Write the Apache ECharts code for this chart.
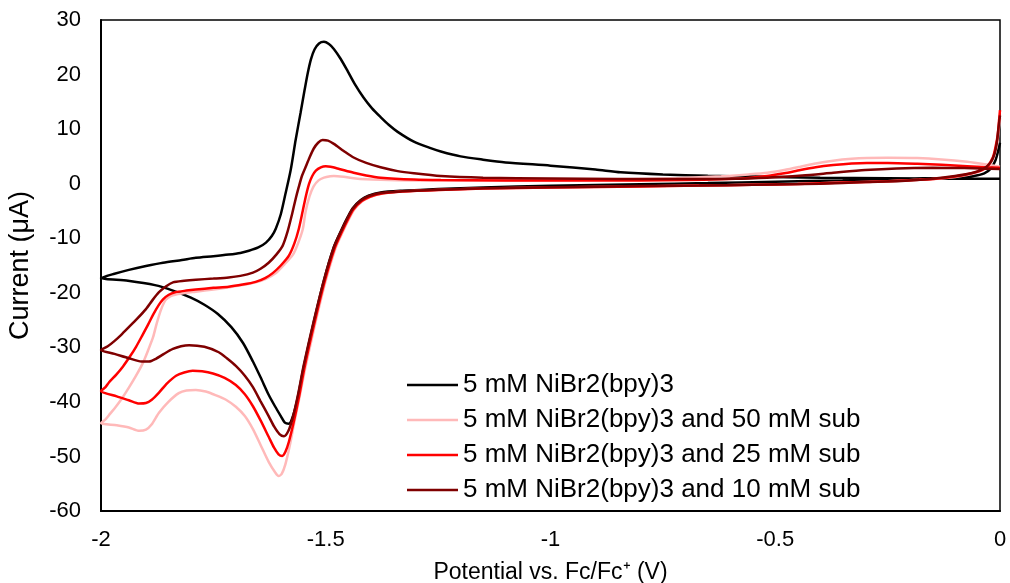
<!DOCTYPE html>
<html><head><meta charset="utf-8">
<script src="https://cdn.jsdelivr.net/npm/echarts@6/dist/echarts.min.js"></script>
<style>html,body{margin:0;padding:0;background:#fff}#c{width:1010px;height:583px}</style>
</head><body><div id="c"></div>
<script>
// Series names and colours
const seriesNames = [
  '5 mM NiBr2(bpy)3',
  '5 mM NiBr2(bpy)3 and 50 mM sub',
  '5 mM NiBr2(bpy)3 and 25 mM sub',
  '5 mM NiBr2(bpy)3 and 10 mM sub'
];
const seriesColors = ['#000000', '#FFB9B9', '#FF0000', '#7F0000'];
const xTicks = [-2, -1.5, -1, -0.5, 0];
const yTicks = [-60, -50, -40, -30, -20, -10, 0, 10, 20, 30];

// [potential (V), current (uA)] in scan order
const cvBlack = [
  [0, 7.5], [-0.004, 6.0], [-0.01, 4.3], [-0.02, 2.8], [-0.035, 1.9], [-0.06, 1.4], [-0.1, 1.1], [-0.2, 0.9],
  [-0.35, 0.6], [-0.5, 0.35], [-0.65, 0.1], [-0.8, -0.1], [-1.0, -0.4], [-1.15, -0.7], [-1.25, -1.0], [-1.33, -1.3],
  [-1.378, -1.6], [-1.405, -2.2], [-1.422, -3.0], [-1.44, -4.5], [-1.451, -6.1], [-1.467, -8.8], [-1.482, -11.6],
  [-1.504, -17.7], [-1.527, -25.5], [-1.549, -33.6], [-1.562, -39.1], [-1.573, -42.6], [-1.582, -44.0], [-1.591, -43.8],
  [-1.6, -42.6], [-1.613, -40.8], [-1.627, -38.7], [-1.645, -35.5], [-1.662, -32.6], [-1.684, -29.2], [-1.71, -26.3],
  [-1.74, -23.9], [-1.77, -22.2], [-1.8, -20.9], [-1.84, -19.6], [-1.88, -18.6], [-1.94, -17.8], [-2.0, -17.3],
  [-1.97, -16.5], [-1.938, -15.8], [-1.9, -15.1], [-1.862, -14.5], [-1.82, -14.0], [-1.789, -13.6], [-1.75, -13.3],
  [-1.716, -13.0], [-1.69, -12.7], [-1.671, -12.3], [-1.65, -11.7], [-1.633, -10.8], [-1.62, -9.6], [-1.611, -8.2],
  [-1.6, -5.6], [-1.59, -2.0], [-1.578, 2.5], [-1.567, 8.0], [-1.556, 13.0], [-1.547, 17.2], [-1.54, 20.3],
  [-1.533, 22.8], [-1.525, 24.6], [-1.515, 25.7], [-1.504, 26.0], [-1.493, 25.6], [-1.482, 24.7], [-1.467, 22.9],
  [-1.451, 20.6], [-1.435, 18.2], [-1.416, 15.8], [-1.397, 13.8], [-1.378, 12.2], [-1.36, 10.8], [-1.34, 9.5],
  [-1.304, 7.7], [-1.27, 6.6], [-1.244, 5.9], [-1.2, 5.0], [-1.15, 4.4], [-1.1, 3.9], [-1.0, 3.3], [-0.9, 2.6],
  [-0.844, 2.1], [-0.75, 1.7], [-0.65, 1.45], [-0.55, 1.3], [-0.4, 1.1], [-0.25, 1.0], [-0.1, 0.9], [0, 0.9]
];
const cv50mM = [
  [0, 12.0], [-0.002, 10.5], [-0.005, 8.3], [-0.01, 6.2], [-0.016, 4.5], [-0.029, 3.0], [-0.05, 2.1], [-0.08, 1.5],
  [-0.12, 1.05], [-0.18, 0.7], [-0.25, 0.45], [-0.35, 0.2], [-0.45, -0.05], [-0.55, -0.2], [-0.67, -0.35], [-0.8, -0.5],
  [-1.0, -0.7], [-1.15, -0.9], [-1.25, -1.15], [-1.33, -1.45], [-1.373, -1.8], [-1.4, -2.4], [-1.418, -3.2],
  [-1.436, -4.7], [-1.447, -6.3], [-1.463, -9.0], [-1.478, -11.8], [-1.5, -17.8], [-1.523, -25.5], [-1.545, -33.6],
  [-1.558, -39.0], [-1.57, -43.8], [-1.58, -48.0], [-1.59, -51.5], [-1.598, -53.2], [-1.605, -53.6], [-1.612, -53.0],
  [-1.627, -51.0], [-1.645, -47.9], [-1.662, -45.0], [-1.68, -42.6], [-1.7, -40.9], [-1.722, -39.6], [-1.744, -38.8],
  [-1.767, -38.1], [-1.789, -37.8], [-1.81, -37.9], [-1.827, -38.4], [-1.85, -40.0], [-1.871, -42.0], [-1.888, -44.2],
  [-1.9, -45.1], [-1.915, -45.3], [-1.938, -44.7], [-1.965, -44.3], [-2.0, -43.9],
  [-1.99, -43.2], [-1.98, -42.2], [-1.967, -40.9], [-1.952, -39.2], [-1.938, -37.4], [-1.922, -35.2], [-1.907, -32.9],
  [-1.895, -30.5], [-1.884, -28.1], [-1.876, -25.6], [-1.866, -23.0], [-1.856, -21.3], [-1.845, -20.6], [-1.833, -20.3],
  [-1.81, -20.0], [-1.789, -19.8], [-1.75, -19.4], [-1.716, -19.0], [-1.685, -18.6], [-1.656, -18.1], [-1.632, -17.4],
  [-1.611, -16.4], [-1.592, -14.8], [-1.573, -13.0], [-1.562, -11.0], [-1.551, -8.3], [-1.545, -5.2], [-1.536, -2.3],
  [-1.527, -0.5], [-1.516, 0.6], [-1.504, 1.1], [-1.49, 1.35], [-1.482, 1.4], [-1.46, 1.25], [-1.438, 1.0], [-1.41, 0.8],
  [-1.378, 0.7], [-1.304, 0.6], [-1.2, 0.55], [-1.0, 0.6], [-0.85, 0.75], [-0.72, 1.0], [-0.62, 1.35], [-0.56, 1.7],
  [-0.518, 2.0], [-0.48, 2.5], [-0.444, 3.1], [-0.41, 3.7], [-0.371, 4.2], [-0.33, 4.55], [-0.296, 4.7], [-0.25, 4.75],
  [-0.184, 4.7], [-0.13, 4.45], [-0.073, 4.0], [-0.03, 3.5], [0, 3.1]
];
const cv25mM = [
  [0, 13.5], [-0.002, 11.7], [-0.005, 9.0], [-0.01, 6.7], [-0.016, 4.8], [-0.029, 3.1], [-0.05, 2.2], [-0.08, 1.6],
  [-0.12, 1.1], [-0.18, 0.7], [-0.25, 0.45], [-0.35, 0.2], [-0.45, -0.05], [-0.55, -0.2], [-0.67, -0.35], [-0.8, -0.5],
  [-1.0, -0.7], [-1.15, -0.9], [-1.25, -1.15], [-1.33, -1.45], [-1.375, -1.8], [-1.402, -2.4], [-1.42, -3.2],
  [-1.438, -4.7], [-1.449, -6.3], [-1.465, -9.0], [-1.48, -11.8], [-1.502, -17.8], [-1.525, -25.5], [-1.547, -33.6],
  [-1.56, -39.3], [-1.571, -43.6], [-1.582, -47.3], [-1.59, -49.2], [-1.597, -49.9], [-1.605, -49.6], [-1.615, -48.4],
  [-1.627, -46.4], [-1.645, -43.4], [-1.662, -40.8], [-1.68, -38.6], [-1.7, -36.9], [-1.725, -35.6], [-1.751, -34.8],
  [-1.775, -34.4], [-1.796, -34.3], [-1.815, -34.6], [-1.833, -35.2], [-1.853, -36.6], [-1.871, -38.3], [-1.887, -39.6],
  [-1.9, -40.2], [-1.915, -40.3], [-1.938, -39.7], [-1.965, -39.0], [-2.0, -38.0],
  [-1.99, -37.3], [-1.982, -36.4], [-1.966, -35.0], [-1.951, -33.5], [-1.935, -31.6], [-1.922, -29.9], [-1.908, -27.8],
  [-1.895, -25.8], [-1.884, -24.0], [-1.872, -22.3], [-1.862, -21.2], [-1.85, -20.4], [-1.835, -19.9], [-1.81, -19.6],
  [-1.789, -19.4], [-1.75, -19.1], [-1.716, -18.9], [-1.685, -18.5], [-1.656, -18.0], [-1.635, -17.3], [-1.618, -16.4],
  [-1.6, -15.0], [-1.582, -13.2], [-1.57, -11.0], [-1.56, -8.3], [-1.551, -4.9], [-1.544, -2.2], [-1.537, 0.0],
  [-1.53, 1.4], [-1.522, 2.4], [-1.511, 3.0], [-1.5, 3.2], [-1.489, 3.1], [-1.47, 2.7], [-1.438, 2.0], [-1.41, 1.5],
  [-1.378, 1.1], [-1.304, 0.75], [-1.244, 0.65], [-1.1, 0.6], [-0.95, 0.6], [-0.8, 0.6], [-0.7, 0.65], [-0.62, 0.8],
  [-0.56, 1.05], [-0.518, 1.4], [-0.48, 1.9], [-0.444, 2.5], [-0.41, 3.0], [-0.371, 3.4], [-0.33, 3.7], [-0.296, 3.8],
  [-0.25, 3.8], [-0.184, 3.65], [-0.13, 3.45], [-0.073, 3.2], [-0.03, 3.0], [0, 2.9]
];
const cv10mM = [
  [0, 12.5], [-0.003, 10.5], [-0.007, 7.5], [-0.012, 5.5], [-0.02, 4.0], [-0.035, 2.8], [-0.06, 2.0], [-0.1, 1.4],
  [-0.15, 0.9], [-0.22, 0.5], [-0.3, 0.3], [-0.4, 0.0], [-0.55, -0.2], [-0.67, -0.35], [-0.8, -0.45], [-1.0, -0.65],
  [-1.15, -0.85], [-1.25, -1.1], [-1.33, -1.4], [-1.378, -1.7], [-1.405, -2.3], [-1.422, -3.1], [-1.44, -4.6],
  [-1.451, -6.2], [-1.467, -8.9], [-1.482, -11.7], [-1.504, -17.7], [-1.527, -25.3], [-1.549, -33.3], [-1.562, -38.8],
  [-1.573, -42.8], [-1.583, -45.3], [-1.593, -46.3], [-1.603, -45.9], [-1.615, -44.5], [-1.627, -42.6], [-1.645, -39.9],
  [-1.662, -37.3], [-1.68, -35.2], [-1.7, -33.4], [-1.72, -32.0], [-1.738, -30.9], [-1.77, -29.9], [-1.804, -29.6],
  [-1.822, -29.8], [-1.84, -30.3], [-1.86, -31.2], [-1.878, -32.1], [-1.893, -32.6], [-1.91, -32.6], [-1.938, -32.0],
  [-1.97, -31.2], [-2.0, -30.5],
  [-1.985, -29.8], [-1.971, -28.9], [-1.955, -27.7], [-1.938, -26.3], [-1.92, -24.8], [-1.9, -23.0], [-1.885, -21.3],
  [-1.871, -19.9], [-1.855, -18.8], [-1.84, -18.1], [-1.815, -17.8], [-1.789, -17.6], [-1.75, -17.4], [-1.716, -17.2],
  [-1.69, -16.9], [-1.662, -16.3], [-1.645, -15.6], [-1.627, -14.5], [-1.61, -13.0], [-1.596, -11.4], [-1.585, -8.8],
  [-1.575, -5.6], [-1.567, -2.8], [-1.56, -0.6], [-1.553, 1.4], [-1.545, 3.0], [-1.536, 4.8], [-1.527, 6.4],
  [-1.517, 7.5], [-1.507, 8.0], [-1.495, 7.9], [-1.482, 7.3], [-1.46, 6.0], [-1.438, 4.8], [-1.41, 3.8], [-1.378, 3.0],
  [-1.34, 2.3], [-1.304, 1.9], [-1.244, 1.4], [-1.15, 1.1], [-1.0, 0.95], [-0.85, 0.85], [-0.7, 0.85], [-0.6, 0.9],
  [-0.518, 1.1], [-0.44, 1.5], [-0.371, 2.0], [-0.3, 2.5], [-0.23, 2.8], [-0.15, 2.9], [-0.08, 2.85], [0, 2.7]
];
const seriesData = [cvBlack, cv50mM, cv25mM, cv10mM];

const FONT = '"Liberation Sans", Arial, sans-serif';
const chart = echarts.init(document.getElementById('c'), null, {renderer: 'canvas'});
chart.setOption({
  animation: false,
  backgroundColor: '#ffffff',
  textStyle: {fontFamily: FONT, color: '#000'},
  grid: {left: 101, right: 10, top: 20, bottom: 72, containLabel: false, outerBoundsMode: 'none',
         show: true, borderColor: '#000', borderWidth: 1.5},
  xAxis: {
    type: 'value', min: xTicks[0], max: xTicks[xTicks.length - 1], interval: 0.5,
    axisLine: {show: true, onZero: false, lineStyle: {color: '#000', width: 2}},
    axisTick: {show: false}, splitLine: {show: false},
    axisLabel: {color: '#000', fontSize: 22, fontFamily: FONT, margin: 18},
    name: 'Potential vs. Fc/Fc\u207A (V)', nameLocation: 'middle', nameGap: 50,
    nameTextStyle: {color: '#000', fontSize: 23, fontFamily: FONT}
  },
  yAxis: {
    type: 'value', min: yTicks[0], max: yTicks[yTicks.length - 1], interval: 10,
    axisLine: {show: true, onZero: false, lineStyle: {color: '#000', width: 2}},
    axisTick: {show: false}, splitLine: {show: false},
    axisLabel: {color: '#000', fontSize: 22, fontFamily: FONT, margin: 20},
    name: 'Current (\u03BCA)', nameLocation: 'middle', nameGap: 67,
    nameTextStyle: {color: '#000', fontSize: 27, fontFamily: FONT}
  },
  legend: {
    orient: 'vertical', left: 402, top: 367, icon: 'rect', itemWidth: 51, itemHeight: 2.5, itemGap: 9,
    textStyle: {fontSize: 26, lineHeight: 26, color: '#000', fontFamily: FONT},
    data: seriesNames
  },
  series: seriesNames.map((n, i) => ({
    name: n, type: 'line', data: seriesData[i], showSymbol: false, smooth: 0.25,
    lineStyle: {color: seriesColors[i], width: 2.5}, itemStyle: {color: seriesColors[i]},
    emphasis: {disabled: true}, z: 2 + i
  }))
});
</script></body></html>
